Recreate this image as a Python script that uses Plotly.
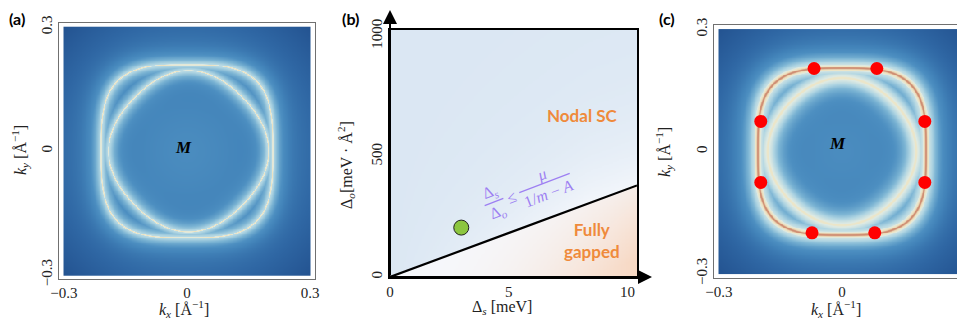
import numpy as np
import plotly.graph_objects as go

# the page body has an 8px default margin: lay everything out in window pixels
OFF = 8
WIN_W, WIN_H = 965, 322
W, H = WIN_W - OFF, WIN_H - OFF

# ---------------- data ----------------
k_tickvals = [-0.3, 0, 0.3]
k_ticktext = ["−0.3", "0", "0.3"]
ds_tickvals = [0, 5, 10]
do_tickvals = [0, 500, 1000]

# Fermi-contour shape parameters
outer_a = [0.209, 3.3]            # half-width, superellipse exponent
inner_a = [0.190, 0.005, 0.004]   # mean radius, 4-fold modulation, x offset
outer_c = [0.205, 3.3]
inner_c = [0.178, 0.003, 0.0]

# nodes in panel (c)
node_kx = [-0.068, 0.085, -0.198, 0.202, -0.198, 0.202, -0.073, 0.080]
node_ky = [0.204, 0.204, 0.074, 0.074, -0.076, -0.076, -0.200, -0.200]

# phase diagram (b)
boundary_ds = [0, 10.4]
boundary_do = [0, 380]
sample_ds = [3.0]
sample_do = [205]

# ---------------- helpers ----------------
def P(X, Y):
    return (X - OFF) / W, 1 - (Y - OFF) / H


def dom_x(x0, x1):
    return [max(0, (x0 - OFF) / W), min(1, (x1 - OFF) / W)]


def dom_y(top, bottom):
    return [1 - (bottom - OFF) / H, 1 - (top - OFF) / H]


def spectral(outer, inner, mode):
    k = np.linspace(-0.3, 0.3, 301)
    X, Y = np.meshgrid(k, k)
    r = np.hypot(X, Y)
    bg = 0.36 - 1.16 * r ** 1.5
    a, p = outer
    F = (np.abs(X / a) ** p + np.abs(Y / a) ** p) ** (1 / p)
    d_out = np.abs(F - 1) * a
    r0, m, x0 = inner
    th = np.arctan2(Y, X - x0)
    ri = np.hypot(X - x0, Y)
    d_in = np.abs(ri - (r0 + m * np.cos(4 * th)))
    d = np.minimum(d_out, d_in)
    if mode == "a":
        z = bg + (0.64 - bg) * np.exp(-(d / 0.024) ** 1.2)
        z = np.maximum(z, 0.79 * np.exp(-(d / 0.0035) ** 2))
    else:
        z = bg + (0.73 - bg) * np.exp(-(d / 0.035) ** 1.3)
        z = np.maximum(z, 0.775 * np.exp(-(d_in / 0.012) ** 2))
        z = np.maximum(z, 0.84 * np.exp(-(d_out / 0.018) ** 2))
        z = np.maximum(z, 0.93 * np.exp(-(d_out / 0.009) ** 2))
    return k, np.round(z, 3)


cscale = [
    [0.00, "#1f4c8a"],
    [0.15, "#2f67a4"],
    [0.30, "#4283b9"],
    [0.38, "#4d8fc1"],
    [0.50, "#7ab3d3"],
    [0.60, "#b0d5e2"],
    [0.70, "#dde9e2"],
    [0.78, "#ede5c6"],
    [0.86, "#e3c3a2"],
    [0.93, "#cf8d72"],
    [1.00, "#b8604c"],
]

fig = go.Figure()

ka, za = spectral(outer_a, inner_a, "a")
fig.add_trace(go.Heatmap(x=ka, y=ka, z=za, colorscale=cscale, zmin=0, zmax=1,
                         showscale=False, hoverinfo="skip", xaxis="x", yaxis="y"))

kc, zc = spectral(outer_c, inner_c, "c")
fig.add_trace(go.Heatmap(x=kc, y=kc, z=zc, colorscale=cscale, zmin=0, zmax=1,
                         showscale=False, hoverinfo="skip", xaxis="x3", yaxis="y3"))
fig.add_trace(go.Scatter(x=node_kx, y=node_ky, mode="markers",
                         marker=dict(color="#ff0000", size=13, line=dict(width=0)),
                         xaxis="x3", yaxis="y3", hoverinfo="skip"))

# panel (b) shading
xmax_b, ymax_b = 10.4, 1025
bx = np.linspace(0, xmax_b, 181)
by = np.linspace(0, ymax_b, 181)
BX, BY = np.meshgrid(bx, by)
px = BX / xmax_b * 247
py = BY / ymax_b * 246
slope_px = (boundary_do[1] / ymax_b * 246) / (boundary_ds[1] / xmax_b * 247)
cth = 1 / np.sqrt(1 + slope_px ** 2)
dist = (py - slope_px * px) * cth
sx = px / 247
above = 1 - 0.85 * np.exp(-dist / 55) * np.clip(sx * 1.25, 0, 1)
below = -(sx ** 1.8) * (0.35 + 0.65 * np.clip(-dist / 70, 0, 1))
zb = np.where(dist >= 0, above, below)
fig.add_trace(go.Heatmap(x=bx, y=by, z=np.round(zb, 3), zmin=-1, zmax=1,
                         colorscale=[[0, "#f7d8c3"], [0.5, "#f6f8fc"], [1, "#dbe7f3"]],
                         showscale=False, hoverinfo="skip", xaxis="x2", yaxis="y2"))
fig.add_trace(go.Scatter(x=boundary_ds, y=boundary_do, mode="lines",
                         line=dict(color="black", width=2.2), xaxis="x2", yaxis="y2",
                         hoverinfo="skip"))
fig.add_trace(go.Scatter(x=sample_ds, y=sample_do, mode="markers",
                         marker=dict(color="#8cc63f", size=15, line=dict(color="#222", width=1)),
                         xaxis="x2", yaxis="y2", hoverinfo="skip"))

tickfont = dict(family="Liberation Serif", size=15, color="#222")
frame_k = dict(showline=True, mirror=True, linecolor="#707070", linewidth=1,
               showgrid=False, zeroline=False, ticks="", tickfont=tickfont,
               automargin=False)

fig.update_layout(
    width=W, height=H, margin=dict(l=0, r=0, t=0, b=0, pad=0, autoexpand=False),
    paper_bgcolor="white", plot_bgcolor="white", showlegend=False,
    xaxis=dict(domain=dom_x(59, 315), range=[-0.312, 0.312], anchor="y",
               tickvals=k_tickvals, ticktext=k_ticktext, **frame_k),
    yaxis=dict(domain=dom_y(23, 279), range=[-0.31, 0.31], anchor="x",
               tickvals=k_tickvals, ticktext=k_ticktext, tickangle=-90, **frame_k),
    xaxis3=dict(domain=dom_x(714, 965), range=[-0.312, 0.300], anchor="y3",
                tickvals=k_tickvals, ticktext=k_ticktext, **frame_k),
    yaxis3=dict(domain=dom_y(25, 278), range=[-0.311, 0.311], anchor="x3",
                tickvals=k_tickvals, ticktext=k_ticktext, tickangle=-90, **frame_k),
    xaxis2=dict(domain=dom_x(390, 637), range=[0, xmax_b], anchor="y2",
                tickvals=ds_tickvals, showline=True, mirror=True, linecolor="black",
                linewidth=1.5, showgrid=False, zeroline=False, ticks="", tickfont=tickfont,
                automargin=False),
    yaxis2=dict(domain=dom_y(30, 277), range=[0, ymax_b], anchor="x2",
                tickvals=do_tickvals, tickangle=-90, showline=True, mirror=True,
                linecolor="black", linewidth=1.5, showgrid=False, zeroline=False,
                ticks="", tickfont=tickfont, automargin=False),
)

ann = []
serif = "Liberation Serif"
tfont = dict(family=serif, size=16, color="#222")


def add_text(X, Y, text, font, angle=0, **kw):
    x, y = P(X, Y)
    ann.append(dict(x=x, y=y, xref="paper", yref="paper", text=text, showarrow=False,
                    font=font, textangle=angle, xanchor="center", yanchor="middle", **kw))


# axis titles
add_text(184, 309, "<i>k<sub>x</sub></i> [Å<sup>−1</sup>]", tfont)
add_text(20, 150, "<i>k<sub>y</sub></i> [Å<sup>−1</sup>]", tfont, angle=-90)
add_text(836, 309, "<i>k<sub>x</sub></i> [Å<sup>−1</sup>]", tfont)
add_text(664, 152, "<i>k<sub>y</sub></i> [Å<sup>−1</sup>]", tfont, angle=-90)
add_text(502, 307, "Δ<sub><i>s</i></sub> [meV]", tfont)
add_text(346, 165, "Δ<sub><i>o</i></sub>[meV · Å<sup>2</sup>]", tfont, angle=-90)

# M labels
mfont = dict(family=serif, size=17, color="black")
add_text(183, 147, "<b><i>M</i></b>", mfont)
add_text(837, 143, "<b><i>M</i></b>", mfont)

# panel labels
lfont = dict(family="Lato", size=16, color="black")
add_text(17, 19, "<b>(a)</b>", lfont)
add_text(350, 19, "<b>(b)</b>", lfont)
add_text(667, 19, "<b>(c)</b>", lfont)

# region labels
ofont = dict(family="Lato", size=17, color="#ef8a3b")
add_text(582, 115, "<b>Nodal SC</b>", ofont)
add_text(592, 241, "<b>Fully<br>gapped</b>", ofont)

# formula along the line
th = np.deg2rad(21)
u = np.array([np.cos(th), -np.sin(th)])
n = np.array([-np.sin(th), -np.cos(th)])
pfont = dict(family=serif, size=16, color="#9d7ff2")
B1 = np.array([494.0, 202.0])
B2 = np.array([544.5, 183.0])
add_text(*(B1 + 10 * n), "Δ<sub><i>s</i></sub>", pfont, angle=-21)
add_text(*(B1 - 11 * n), "Δ<sub><i>o</i></sub>", pfont, angle=-21)
add_text(511, 197, "≤", pfont, angle=-21)
add_text(*(B2 + 9 * n), "<i>μ</i>", pfont, angle=-21)
add_text(*(B2 - 11 * n), "1/<i>m</i> − <i>A</i>", pfont, angle=-21)

shapes = []
for B, L in [(B1, 10), (B2, 27)]:
    a0 = B - L * u
    a1 = B + L * u
    x0, y0 = P(*a0)
    x1, y1 = P(*a1)
    shapes.append(dict(type="line", xref="paper", yref="paper", x0=x0, y0=y0, x1=x1, y1=y1,
                       line=dict(color="#9d7ff2", width=1.2)))

# axis arrows (b)
tx, ty = P(652, 277)
ann.append(dict(x=tx, y=ty, xref="paper", yref="paper", text="", showarrow=True,
                ax=-262, ay=0, axref="pixel", ayref="pixel", arrowhead=2, arrowsize=1.4,
                arrowwidth=2, arrowcolor="black"))
tx, ty = P(390, 10)
ann.append(dict(x=tx, y=ty, xref="paper", yref="paper", text="", showarrow=True,
                ax=0, ay=267, axref="pixel", ayref="pixel", arrowhead=2, arrowsize=1.4,
                arrowwidth=2, arrowcolor="black"))

fig.update_layout(annotations=ann, shapes=shapes)
fig.write_html("out.html")
